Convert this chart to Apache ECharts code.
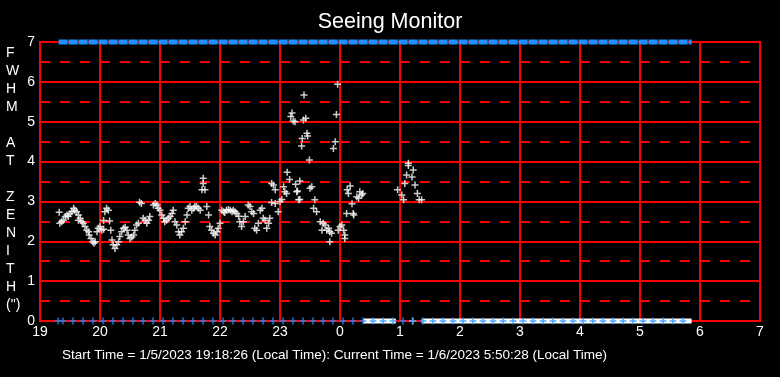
<!DOCTYPE html>
<html>
<head>
<meta charset="utf-8">
<script src="https://cdn.jsdelivr.net/npm/echarts@6/dist/echarts.min.js"></script>
<style>
html,body{margin:0;padding:0;background:#000;}
#chart{width:780px;height:377px;}
</style>
</head>
<body>
<div id="chart"></div>
<script>
// ---- data (hours since midnight of 1/5; values > 24 are after midnight) ----
var xTickLabels = ['19','20','21','22','23','0','1','2','3','4','5','6','7'];
var yTickLabels = ['0','1','2','3','4','5','6','7'];

var seeingTime = [
 19.32,19.33,19.36,19.39,19.42,19.45,19.47,19.50,19.53,19.56,19.58,19.61,19.64,19.67,19.64,19.70,19.72,19.75,19.78,19.81,
 19.82,19.85,19.88,19.90,19.92,19.95,19.97,20.00,20.03,20.06,20.06,20.08,20.11,20.14,20.16,20.18,20.20,20.22,20.25,20.28,
 20.31,20.33,20.36,20.39,20.42,20.45,20.47,20.50,20.53,20.56,20.58,20.61,20.64,20.66,20.69,20.72,20.75,20.78,20.81,20.83,
 20.89,20.92,20.95,20.97,21.00,21.03,21.06,21.08,21.11,21.14,21.17,21.20,21.22,21.25,21.28,21.31,21.33,21.36,21.39,21.42,
 21.45,21.47,21.50,21.53,21.56,21.58,21.61,21.64,21.67,21.72,21.72,21.70,21.75,21.78,21.81,21.83,21.86,21.89,21.92,21.95,
 21.97,22.00,22.03,22.06,22.08,22.11,22.14,22.17,22.20,22.22,22.25,22.28,22.31,22.33,22.36,22.39,22.42,22.47,22.50,22.53,
 22.56,22.58,22.61,22.64,22.67,22.70,22.72,22.75,22.78,22.81,22.83,22.86,22.89,22.92,22.86,22.92,22.97,23.00,23.03,23.06,
 23.08,23.11,23.12,23.16,23.18,23.20,23.22,23.25,23.26,23.28,23.29,23.31,23.33,23.33,23.36,23.37,23.39,23.40,23.43,23.45,
 23.46,23.49,23.50,23.53,23.56,23.58,23.61,23.67,23.70,23.72,23.75,23.78,23.81,23.83,23.83,23.86,23.89,23.92,23.94,23.96,
 23.97,24.00,24.03,24.06,24.08,24.08,24.11,24.12,24.14,24.17,24.20,24.22,24.23,24.28,24.31,24.33,24.36,24.38,
 24.96,25.03,25.06,25.08,25.11,25.14,25.14,25.20,25.22,25.25,25.29,25.32,25.36
];
var seeingFwhm = [
 2.73,2.45,2.49,2.53,2.62,2.66,2.62,2.70,2.74,2.83,2.78,2.74,2.66,2.58,2.53,2.49,2.45,2.37,2.28,2.24,
 2.16,2.07,1.99,1.95,1.99,2.24,2.33,2.37,2.28,2.30,2.52,2.74,2.83,2.78,2.51,2.28,2.03,1.91,1.82,1.91,
 1.99,2.12,2.24,2.33,2.35,2.28,2.16,2.07,2.11,2.16,2.28,2.41,2.45,2.98,2.95,2.58,2.53,2.45,2.53,2.62,
 2.91,2.95,2.91,2.83,2.78,2.66,2.58,2.49,2.53,2.58,2.62,2.70,2.78,2.49,2.41,2.24,2.16,2.24,2.33,2.49,
 2.66,2.83,2.87,2.78,2.83,2.87,2.87,2.83,2.78,3.58,3.45,3.29,3.29,2.87,2.66,2.37,2.28,2.20,2.16,2.24,
 2.33,2.45,2.78,2.74,2.72,2.78,2.80,2.78,2.74,2.78,2.74,2.70,2.63,2.49,2.37,2.49,2.62,2.91,2.87,2.74,
 2.70,2.33,2.28,2.45,2.78,2.83,2.58,2.53,2.33,2.45,2.58,3.45,3.41,3.29,2.97,2.95,2.74,3.00,3.05,3.37,
 3.24,3.20,3.73,3.55,5.13,5.22,5.02,5.00,3.43,3.24,3.26,3.04,3.51,3.05,4.39,4.58,5.04,5.67,5.09,4.71,
 4.64,4.04,3.33,3.37,2.83,3.04,2.74,2.49,2.28,2.45,2.41,2.28,2.33,2.24,1.99,2.20,4.33,4.50,5.18,5.94,
 2.28,2.37,2.41,2.28,2.16,2.07,2.70,3.29,3.20,3.39,2.94,2.70,2.66,3.12,3.08,3.24,3.16,3.20,
 3.29,3.16,3.04,3.45,3.66,3.96,3.90,3.61,3.79,3.41,3.20,3.04,3.04
];

// status markers (minutes after 19:00)
var blueMinutes = [18,23,33,43,53,63,73,83,93,103,113,123,133,143,153,163,173,183,193,203,213,223,233,243,253,263,
 273,283,293,303,313,323,333,343,353,363,373,383,393,403,413,423,433,443,453,463,473,483,493,503,513,523,533,543,
 553,563,573,583,593,603,613,623,633,643];
var topBandStart = 19.31, topBandEnd = 29.86;       // hours
var zeroBands = [[24.39, 24.93], [25.36, 29.86]];    // hours, FWHM = 0 runs
var zeroSingles = [25.21];

var titleText = 'Seeing Monitor';
var yAxisTitle = ['F','W','H','M','','A','T','','Z','E','N','I','T','H','(")'];
var footerText = 'Start Time = 1/5/2023 19:18:26 (Local Time): Current Time = 1/6/2023 5:50:28 (Local Time)';

// ---- build option ----
var FONT = 'Liberation Sans, Arial, sans-serif';
var PLUS = 'path://M0,2.75h7v1.5h-7zM2.75,0h1.5v7h-1.5z';
var BLUE = '#1e90ff';

var seeingData = seeingTime.map(function (t, i) { return [t, seeingFwhm[i]]; });
var blueBottom = blueMinutes.map(function (m) { return [19 + m / 60, 0]; });
var zeroLineData = [];
zeroBands.forEach(function (b, i) {
  if (i > 0) zeroLineData.push('-');
  zeroLineData.push([b[0], 0]);
  zeroLineData.push([b[1], 0]);
});
var zeroSingleData = zeroSingles.map(function (t) { return [t, 0]; });

var chart = echarts.init(document.getElementById('chart'), null, {renderer: 'canvas'});
chart.setOption({
  backgroundColor: '#000',
  animation: false,
  title: {
    text: titleText, left: 'center', top: 6,
    textStyle: {color: '#fff', fontSize: 21.5, fontWeight: 'normal', fontFamily: FONT}
  },
  grid: {left: 40, right: 20, top: 42, bottom: 56, show: true, borderColor: '#ff0000', borderWidth: 2, backgroundColor: '#000'},
  xAxis: {
    type: 'value', min: 19, max: 31, interval: 1,
    axisLine: {show: true, lineStyle: {color: '#ff0000', width: 2}},
    axisTick: {show: false},
    axisLabel: {color: '#fff', fontSize: 14, fontFamily: FONT, margin: 4,
      formatter: function (v) { return xTickLabels[Math.round(v - 19)]; }},
    splitLine: {show: true, lineStyle: {color: '#ff0000', width: 2}}
  },
  yAxis: {
    type: 'value', min: 0, max: 7, interval: 1,
    axisLine: {show: true, lineStyle: {color: '#ff0000', width: 2}},
    axisTick: {show: false},
    axisLabel: {color: '#fff', fontSize: 14, fontFamily: FONT, margin: 5,
      formatter: function (v) { return yTickLabels[Math.round(v)]; }},
    splitLine: {show: true, lineStyle: {color: '#ff0000', width: 2}},
    minorTick: {show: false, splitNumber: 2},
    minorSplitLine: {show: true, lineStyle: {color: '#ff0000', width: 2, type: [10, 10]}}
  },
  graphic: [
    {type: 'text', left: 6, top: 44, style: {text: yAxisTitle.join('\n'), fill: '#fff', font: '14px ' + FONT, lineHeight: 18, align: 'center'}},
    {type: 'text', left: 62, top: 348, style: {text: footerText, fill: '#fff', font: '13.5px ' + FONT}}
  ],
  series: [
    {type: 'line', data: [[topBandStart, 7], [topBandEnd, 7]], symbol: 'none', silent: true, clip: false,
      lineStyle: {color: BLUE, width: 5, type: [9, 1]}, z: 3},
    {type: 'line', data: zeroLineData, symbol: 'none', silent: true, clip: false, connectNulls: false,
      lineStyle: {color: '#fff', width: 5}, z: 3},
    {type: 'scatter', data: zeroSingleData, symbol: PLUS, symbolSize: 7, itemStyle: {color: '#fff'}, z: 3},
    {type: 'scatter', data: blueBottom, symbol: PLUS, symbolSize: 7, itemStyle: {color: BLUE}, z: 4, clip: false},
    {type: 'scatter', data: seeingData, symbol: PLUS, symbolSize: 7, itemStyle: {color: '#fff'}, z: 5}
  ]
});
</script>
</body>
</html>
